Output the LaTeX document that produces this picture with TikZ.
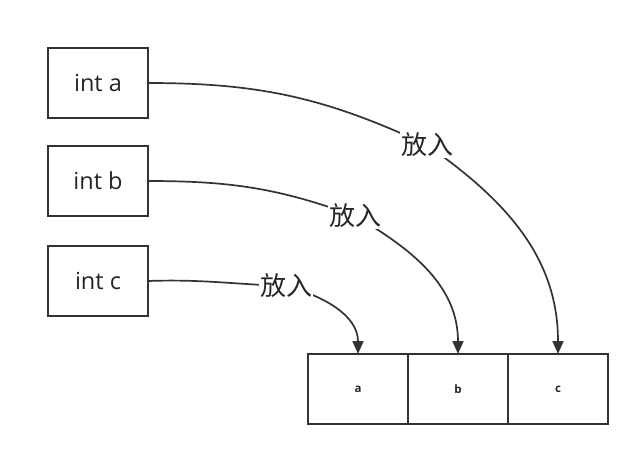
\documentclass[tikz,border=0pt]{standalone}
\usepackage{fontspec}
\setmainfont{Open Sans}
\newfontfamily\cjk{Noto Sans CJK SC}
\usetikzlibrary{arrows.meta}
\usetikzlibrary{positioning}

\begin{document}
\begin{tikzpicture}[
        x=1pt, y=-1pt, % un punto por pixel
        % --- estilos ---
        var/.style={draw=black!80, line width=2pt, outer sep=0pt, minimum width=100pt, minimum height=70pt, inner sep=0pt, font=\fontsize{23.5}{23.5}\selectfont, text=black!85},
        cell/.style={draw=black!80, line width=2pt, outer sep=0pt, minimum width=100pt, minimum height=70pt, inner sep=0pt, font=\fontsize{11.5}{11.5}\selectfont\bfseries, text=black!85},
        putlabel/.style={fill=white, inner sep=1pt, font=\cjk\fontsize{26}{26}\selectfont, text=black!85},
        putline/.style={-{Triangle[length=13pt, width=11pt]}, line width=1.7pt, black!80},
    ]
        \useasboundingbox (0,0) rectangle (640,456);

        % --- variables ---
        \node[var] (inta) at (98,83) {int a};
        \node[var] (intb) at (98,181) {int b};
        \node[var] (intc) at (98,281) {int c};

        % --- array ---
        \node[cell] (cella) at (358,389) {a};
        \node[cell, right=0pt of cella] (cellb) {b};
        \node[cell, right=0pt of cellb] (cellc) {c};

        % --- puntos de las etiquetas ---
        \coordinate (pa) at (427,145);
        \coordinate (pb) at (355,216);
        \coordinate (pc) at (286,286);

        % --- conectores ---
        \draw[putline] (inta.east) to[out=0, in=155] (pa) to[out=-35, in=90] (cellc.north);
        \draw[putline] (intb.east) to[out=0, in=160] (pb) to[out=-30, in=90] (cellb.north);
        \draw[putline] (intc.east) to[out=2, in=178] (pc) to[out=-15, in=90] (cella.north);

        % --- etiquetas ---
        \node[putlabel] at (pa) {放入};
        \node[putlabel] at (pb) {放入};
        \node[putlabel] at (pc) {放入};
\end{tikzpicture}
\end{document}
